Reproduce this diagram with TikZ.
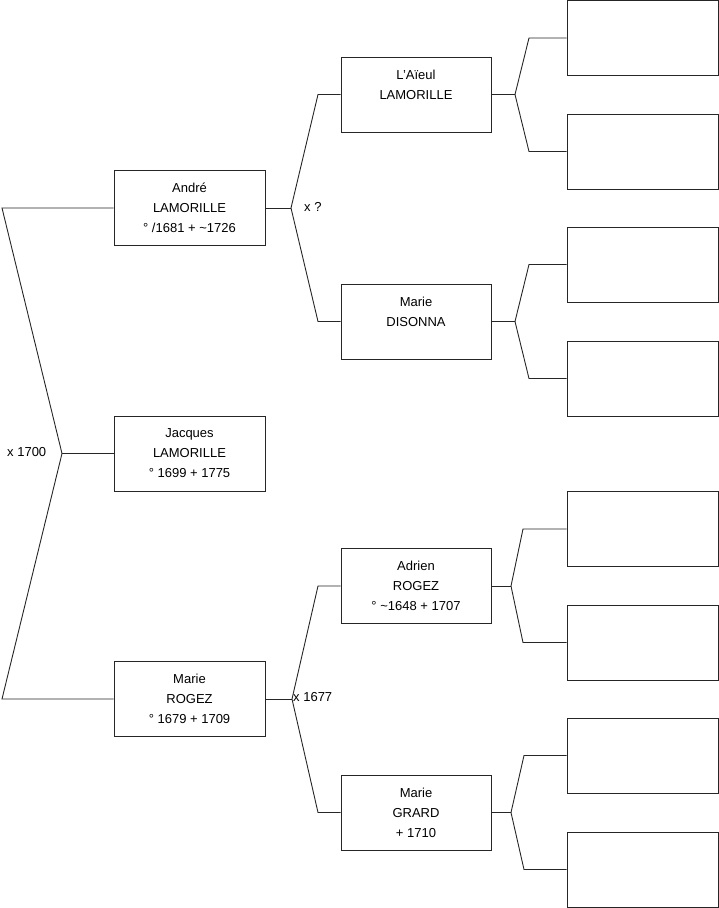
\documentclass[tikz,border=0pt]{standalone}
\usepackage{fontspec}
\setmainfont{Liberation Sans}
\begin{document}
\begin{tikzpicture}[x=1pt,y=-1pt,
  person/.style={draw=black!85, line width=0.9pt, minimum width=151pt, minimum height=75pt,
    inner sep=0pt, align=center, font=\fontsize{13}{20}\selectfont, fill=white},
  link/.style={draw=black!85, line width=0.9pt},
  lbl/.style={font=\fontsize{13}{14}\selectfont, inner sep=0pt, anchor=west}]
\useasboundingbox (0,0) rectangle (719,908);

% generation 1
\node[person] (andre)   at (189.5,208) {André\\LAMORILLE\\° /1681 + \textasciitilde1726};
\node[person] (jacques) at (189.5,453.5) {Jacques\\LAMORILLE\\° 1699 + 1775};
\node[person] (rogez)   at (189.5,699)   {Marie\\ROGEZ\\° 1679 + 1709};

% generation 2
\node[person, minimum width=150pt] (aieul)   at (416,94.5)  {L'Aïeul\\LAMORILLE\\\mbox{}};
\node[person, minimum width=150pt] (disonna) at (416,321.5) {Marie\\DISONNA\\\mbox{}};
\node[person, minimum width=150pt] (adrien)  at (416,586)   {Adrien\\ROGEZ\\° \textasciitilde1648 + 1707};
\node[person, minimum width=150pt] (grard)   at (416,812.5) {Marie\\GRARD\\+ 1710};

% generation 3
\node[person] (g1) at (642.5,38)    {};
\node[person] (g2) at (642.5,151.5) {};
\node[person] (g3) at (642.5,264.5) {};
\node[person] (g4) at (642.5,378.5) {};
\node[person] (g5) at (642.5,529)   {};
\node[person] (g6) at (642.5,642.5) {};
\node[person] (g7) at (642.5,755.5) {};
\node[person] (g8) at (642.5,869.5) {};

% junction points
\coordinate (fj) at (62,453.5);
\coordinate (fa) at (2,208);
\coordinate (fm) at (2,699);

\coordinate (ja) at (291,208);
\coordinate (ca1) at (318,94.5);
\coordinate (ca2) at (318,321.5);

\coordinate (jr) at (292,699);
\coordinate (cr1) at (318,586);
\coordinate (cr2) at (318,812.5);

\coordinate (jai) at (515,94.5);
\coordinate (cai1) at (529,38);
\coordinate (cai2) at (529,151.5);

\coordinate (jdi) at (515,321.5);
\coordinate (cdi1) at (529,264.5);
\coordinate (cdi2) at (529,378.5);

\coordinate (jad) at (511,586);
\coordinate (cad1) at (523,529);
\coordinate (cad2) at (523,642.5);

\coordinate (jgr) at (511,812.5);
\coordinate (cgr1) at (524,755.5);
\coordinate (cgr2) at (524,869.5);

% connectors
\draw[link] (andre.west) -- (fa) -- (fj) -- (fm) -- (rogez.west);
\draw[link] (fj) -- (jacques.west);

\draw[link] (andre.east) -- (ja);
\draw[link] (aieul.west) -- (ca1) -- (ja) -- (ca2) -- (disonna.west);

\draw[link] (rogez.east) -- (jr);
\draw[link] (adrien.west) -- (cr1) -- (jr) -- (cr2) -- (grard.west);

\draw[link] (aieul.east) -- (jai);
\draw[link] (g1.west) -- (cai1) -- (jai) -- (cai2) -- (g2.west);

\draw[link] (disonna.east) -- (jdi);
\draw[link] (g3.west) -- (cdi1) -- (jdi) -- (cdi2) -- (g4.west);

\draw[link] (adrien.east) -- (jad);
\draw[link] (g5.west) -- (cad1) -- (jad) -- (cad2) -- (g6.west);

\draw[link] (grard.east) -- (jgr);
\draw[link] (g7.west) -- (cgr1) -- (jgr) -- (cgr2) -- (g8.west);

% marriage labels
\node[lbl] (m1700) at (7,452) {x 1700};
\node[lbl] (mq)    at (304,207) {x ?};
\node[lbl] (m1677) at (293,697) {x 1677};
\end{tikzpicture}
\end{document}
